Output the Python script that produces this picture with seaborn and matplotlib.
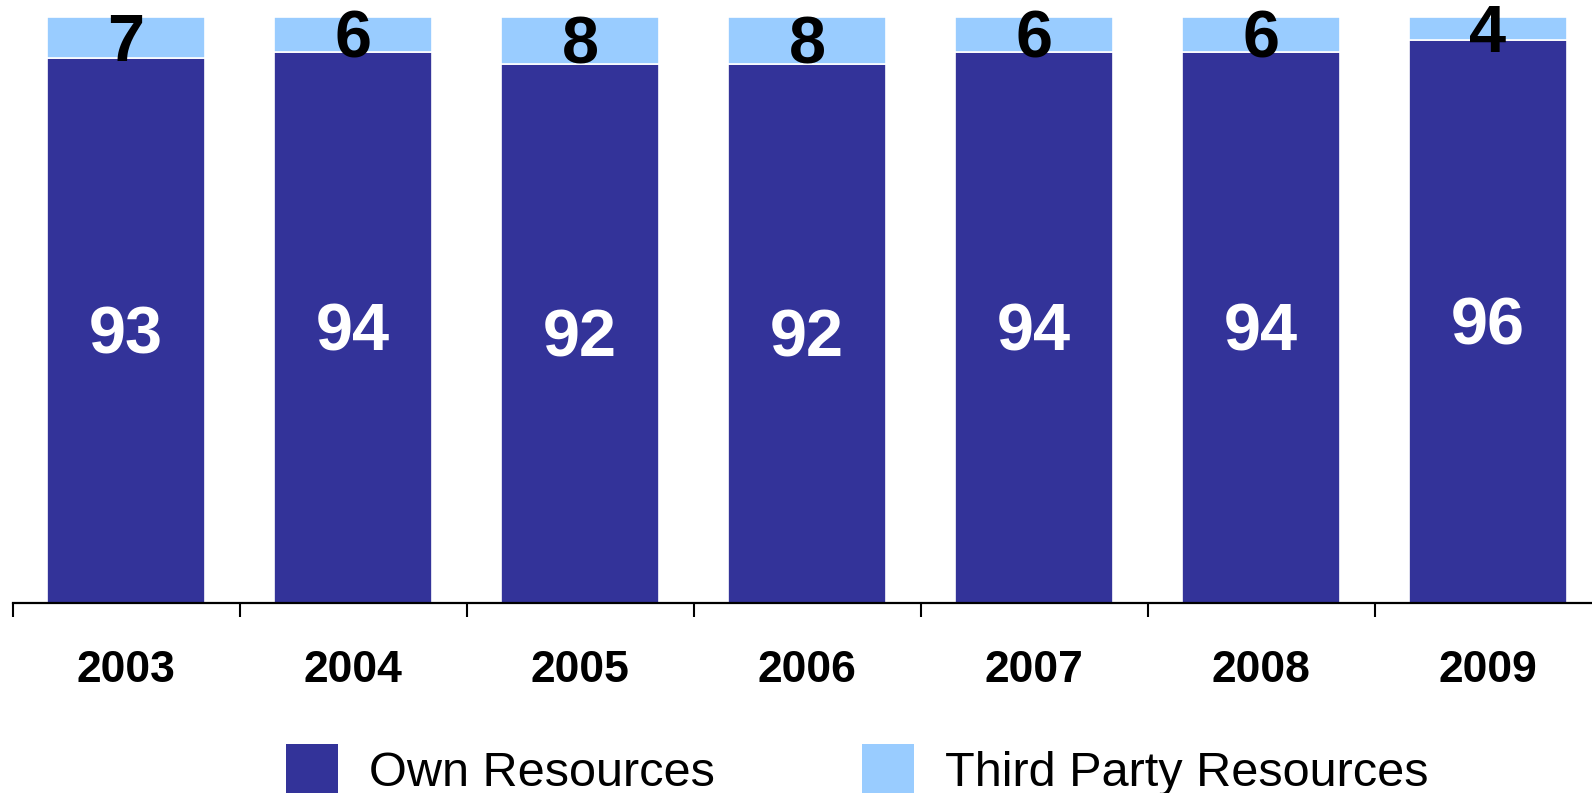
import matplotlib
matplotlib.use("Agg")
import matplotlib.pyplot as plt
from matplotlib.patches import Patch
from matplotlib.ticker import FixedLocator
import seaborn as sns

years = ["2003", "2004", "2005", "2006", "2007", "2008", "2009"]
own_resources = [93, 94, 92, 92, 94, 94, 96]
third_party = [7, 6, 8, 8, 6, 6, 4]
series_names = ["Own Resources", "Third Party Resources"]

DARK = "#333399"
LIGHT = "#99CCFF"

sns.set_theme(style="white")
plt.rcParams["font.family"] = ["Liberation Sans", "DejaVu Sans"]

W, H = 1592, 793
fig = plt.figure(figsize=(W / 100, H / 100), dpi=100)
ax = fig.add_axes([12.5 / W, 1 - 603 / H, 7 * 227 / W, 586 / H])

sns.barplot(x=years, y=own_resources, color=DARK, saturation=1, width=0.7,
            edgecolor="white", linewidth=1.2, errorbar=None, ax=ax)
sns.barplot(x=years, y=third_party, bottom=own_resources, color=LIGHT,
            saturation=1, width=0.7, edgecolor="white", linewidth=1.2,
            errorbar=None, ax=ax)

inner = ax.bar_label(ax.containers[0], labels=[str(v) for v in own_resources],
                     label_type="center", color="white", fontsize=48,
                     fontweight="bold")
outer = ax.bar_label(ax.containers[1], labels=[str(v) for v in third_party],
                     label_type="center", color="black", fontsize=48,
                     fontweight="bold")
# nudge the value labels down a little so the digits sit visually centred
for ann in list(inner) + list(outer):
    ann.xyann = (0, -4.5)

ax.set_xlim(-0.5, len(years) - 0.5)
ax.set_ylim(0, 100)
ax.set_ylabel("")
ax.set_xlabel("")
ax.set_yticks([])

for side in ("left", "right", "top"):
    ax.spines[side].set_visible(False)
ax.spines["bottom"].set_color("black")
ax.spines["bottom"].set_linewidth(1.6)

ax.xaxis.set_minor_locator(FixedLocator([i - 0.5 for i in range(len(years) + 1)]))
ax.tick_params(axis="x", which="minor", bottom=True, direction="out",
               length=10, width=1.5, color="black")
ax.tick_params(axis="x", which="major", bottom=True, length=0, pad=34)
for lbl in ax.get_xticklabels():
    lbl.set_fontsize(32)
    lbl.set_fontweight("bold")
    lbl.set_color("black")

handles = [Patch(facecolor=DARK, edgecolor="none"),
           Patch(facecolor=LIGHT, edgecolor="none")]
leg = fig.legend(handles, series_names, loc="center left",
                 bbox_to_anchor=(286 / W, 1 - 770 / H), ncol=2, frameon=False,
                 fontsize=35, handlelength=1.07, handleheight=1.2,
                 handletextpad=0.64, columnspacing=3.03, borderpad=0,
                 borderaxespad=0)
for t in leg.get_texts():
    t.set_color("black")

fig.savefig("out.png", dpi=100)
